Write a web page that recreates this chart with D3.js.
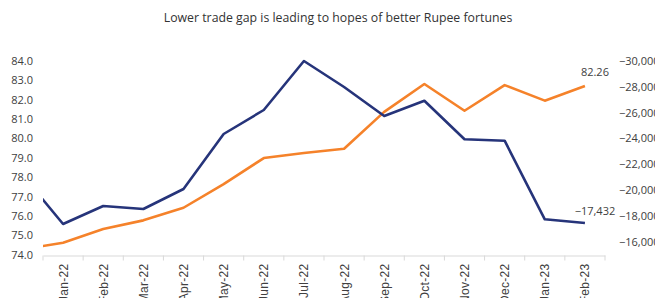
<!DOCTYPE html>
<html>
<head>
<meta charset="utf-8">
<script src="https://cdn.jsdelivr.net/npm/d3@7"></script>
<style>
  html, body { margin: 0; padding: 0; background: #ffffff; }
  svg { display: block; font-family: "Open Sans", "Noto Sans", sans-serif; }
</style>
</head>
<body>
<svg id="chart" width="655" height="298"></svg>
<script>
// ---- data ----
const title = "Lower trade gap is leading to hopes of better Rupee fortunes";
const months = ["Jan-22","Feb-22","Mar-22","Apr-22","May-22","Jun-22","Jul-22","Aug-22","Sep-22","Oct-22","Nov-22","Dec-22","Jan-23","Feb-23"];
// previous month (Dec-21) lies just outside the plot and is clipped
const prevMonth = "Dec-21";
const usdInr = [74.61, 75.31, 75.76, 76.41, 77.63, 78.97, 79.23, 79.45, 81.35, 82.79, 81.41, 82.73, 81.93, 82.69];
const usdInrPrev = 74.27;
const tradeBalance = [-17358, -18750, -18518, -20064, -24317, -26173, -29961, -27951, -25709, -26892, -23907, -23799, -17721, -17432];
const tradeBalancePrev = -21100;
const leftTicks = [74, 75, 76, 77, 78, 79, 80, 81, 82, 83, 84];
const rightTicks = [-30000, -28000, -26000, -24000, -22000, -20000, -18000, -16000];
const lastRateLabel = "82.26";

// ---- layout ----
const svg = d3.select("#chart");
const plotLeft = 43, plotRight = 605, plotTop = 60.5, plotBottom = 254.5, axisY = 255.5;

const x = d3.scaleBand().domain(months).range([plotLeft, plotRight]).padding(0);
const step = x.step();
const xc = (i) => x(months[0]) + step / 2 + i * step;
const yL = d3.scaleLinear().domain([74, 84]).range([plotBottom, plotTop]);
const yR = d3.scaleLinear().domain([-15000, -30000]).range([plotBottom, plotTop]);

// title
svg.append("text")
  .attr("x", 338).attr("y", 22)
  .attr("text-anchor", "middle")
  .attr("fill", "#333333")
  .style("font-size", "12.3px")
  .text(title);

// x axis
const xAxis = d3.axisBottom(x).tickSize(0).tickFormat("");
const gx = svg.append("g").attr("transform", `translate(0,${axisY})`).call(xAxis);
gx.select(".domain").attr("stroke", "#d9d9d9");
// tick marks at band boundaries
const bounds = months.map(m => x(m)).concat([plotRight]);
gx.selectAll("line.bnd").data(bounds).enter().append("line")
  .attr("class", "bnd")
  .attr("x1", d => d).attr("x2", d => d)
  .attr("y1", 0).attr("y2", 5)
  .attr("stroke", "#d9d9d9");
gx.selectAll("text.lbl").data(months).enter().append("text")
  .attr("class", "lbl")
  .attr("transform", (d) => `translate(${x(d) + step / 2 + 4.5},8) rotate(-90)`)
  .attr("text-anchor", "end")
  .attr("fill", "#404040")
  .style("font-size", "12px")
  .style("letter-spacing", "0.3px")
  .text(d => d);

// left axis
const gl = svg.append("g").attr("transform", `translate(33,0)`)
  .call(d3.axisLeft(yL).tickValues(leftTicks).tickSize(0).tickFormat(d3.format(".1f")));
gl.select(".domain").remove();
gl.selectAll("text").attr("fill", "#404040").style("font-size", "11px")
  .style("font-family", '"Open Sans", sans-serif').attr("x", 0).attr("dy", "0.35em");

// right axis
const gr = svg.append("g").attr("transform", `translate(619,0)`)
  .call(d3.axisRight(yR).tickValues(rightTicks).tickSize(0)
    .tickFormat(d => "\u2212" + d3.format(",")(Math.abs(d))));
gr.select(".domain").remove();
gr.selectAll("text").attr("fill", "#404040").style("font-size", "11px")
  .style("font-family", '"Open Sans", sans-serif').attr("x", 0).attr("dy", "0.35em");

// clip
svg.append("clipPath").attr("id", "plotClip")
  .append("rect").attr("x", plotLeft).attr("y", 0).attr("width", plotRight - plotLeft).attr("height", 298);

const idx = d3.range(-1, months.length);
const lineTrade = d3.line()
  .x(i => xc(i))
  .y(i => yR(i < 0 ? tradeBalancePrev : tradeBalance[i]));
const lineRate = d3.line()
  .x(i => xc(i))
  .y(i => yL(i < 0 ? usdInrPrev : usdInr[i]));

const gLines = svg.append("g").attr("clip-path", "url(#plotClip)");
gLines.append("path").datum(idx)
  .attr("d", lineRate).attr("fill", "none")
  .attr("stroke", "#f5822a").attr("stroke-width", 2.6).attr("stroke-linejoin", "round");
gLines.append("path").datum(idx)
  .attr("d", lineTrade).attr("fill", "none")
  .attr("stroke", "#26347a").attr("stroke-width", 2.6).attr("stroke-linejoin", "round");

// end labels
const last = months.length - 1;
svg.append("text")
  .attr("x", xc(last) + 10).attr("y", yL(usdInr[last]) - 10)
  .attr("text-anchor", "middle").attr("fill", "#404040").style("font-size", "11px")
  .text(lastRateLabel);
svg.append("text")
  .attr("x", xc(last) + 10).attr("y", yR(tradeBalance[last]) - 8)
  .attr("text-anchor", "middle").attr("fill", "#404040").style("font-size", "11px")
  .text("\u2212" + d3.format(",")(Math.abs(tradeBalance[last])));
</script>
</body>
</html>
